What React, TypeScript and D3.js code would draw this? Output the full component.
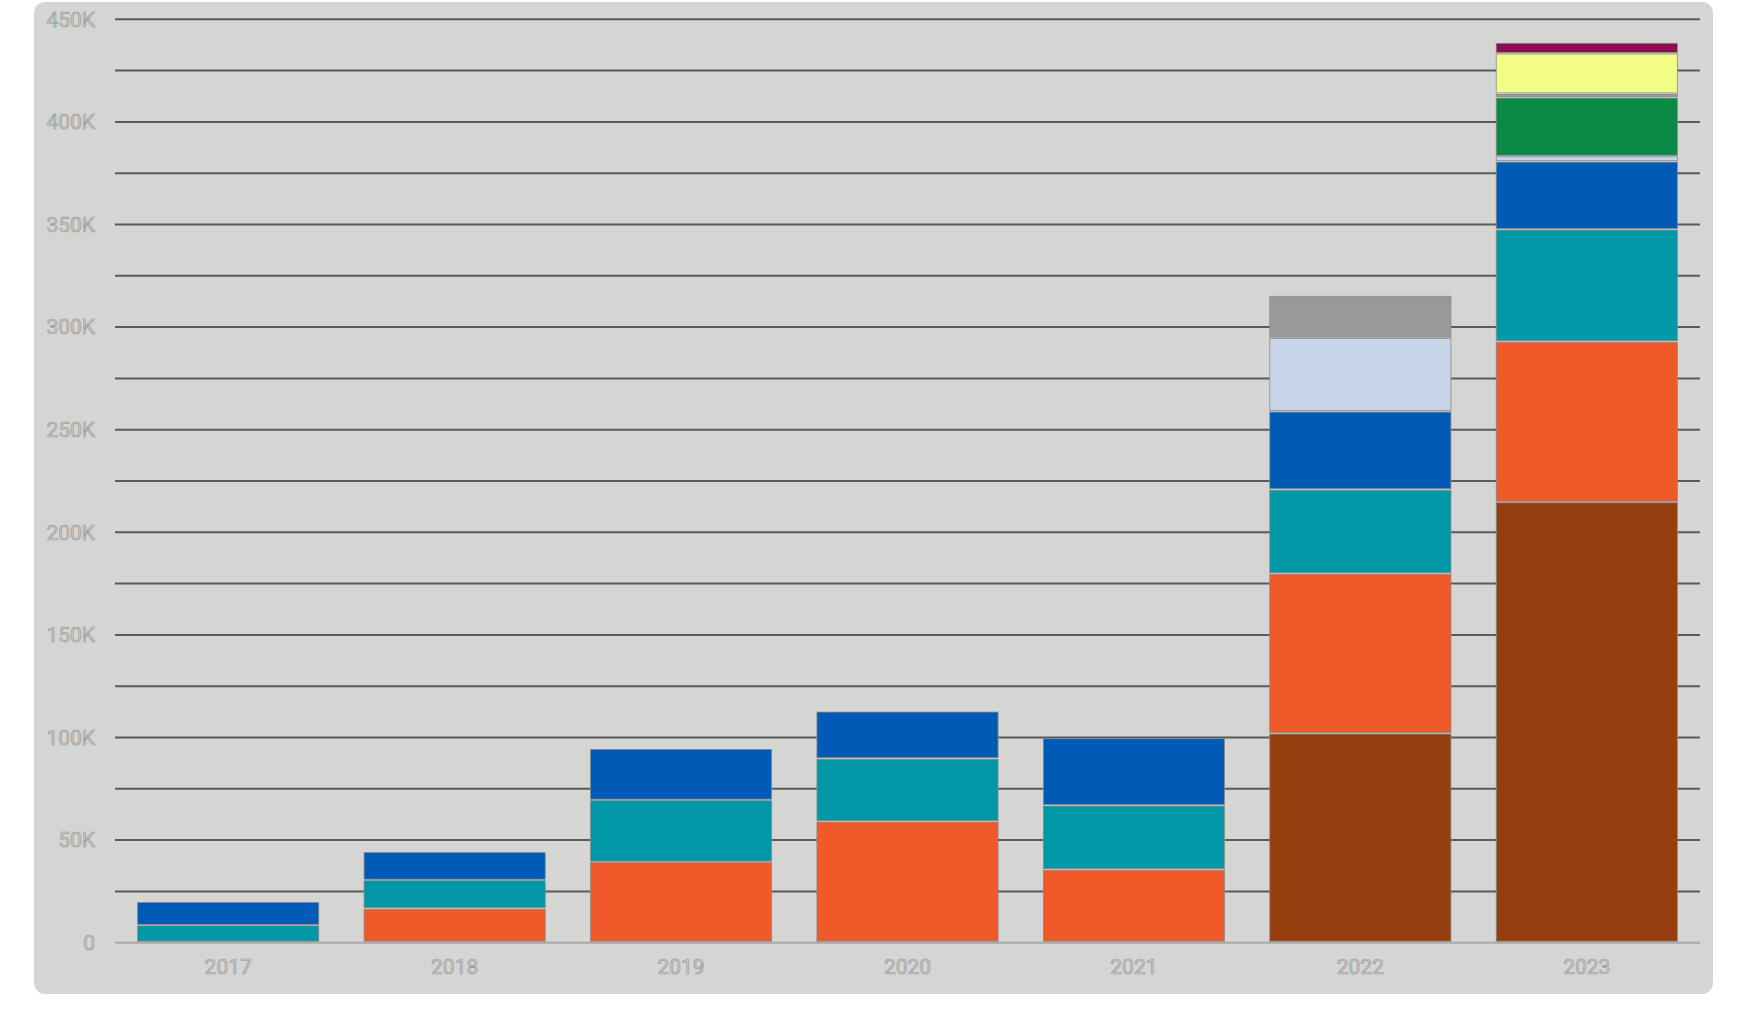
import React from 'react';
import * as d3 from 'd3';

const years = ['2017', '2018', '2019', '2020', '2021', '2022', '2023'];
const seriesNames = ['brown', 'orange', 'teal', 'blue', 'lightblue', 'green', 'gray', 'yellow', 'maroon'];
const seriesColors = ['#953f10', '#f05a29', '#0098a6', '#005bb6', '#c8d5e8', '#0a8a45', '#999999', '#f2fd86', '#8b0e50'];
const brown = [0, 0, 0, 0, 0, 101700, 214400];
const orange = [0, 16300, 39000, 58800, 35300, 77800, 78200];
const teal = [8200, 13900, 30200, 30600, 31300, 41000, 54700];
const blue = [11400, 13700, 25000, 23000, 32800, 38100, 33100];
const lightblue = [0, 0, 0, 0, 0, 35800, 2600];
const green = [0, 0, 0, 0, 0, 0, 28600];
const gray = [0, 0, 0, 0, 0, 20600, 1800];
const yellow = [0, 0, 0, 0, 0, 0, 19700];
const maroon = [0, 0, 0, 0, 0, 0, 5200];
const gridTicks = d3.range(0, 450001, 25000);
const labelTicks = d3.range(0, 450001, 50000);

const W = 1749, H = 1036;

export default function App() {
  const seriesVals = [brown, orange, teal, blue, lightblue, green, gray, yellow, maroon];
  const table = years.map((y, i) => {
    const row: any = { year: y };
    seriesNames.forEach((s, k) => (row[s] = seriesVals[k][i]));
    return row;
  });
  const stacked = d3.stack<any>().keys(seriesNames)(table);
  const x = d3.scaleBand().domain(years).range([115, 1700]).paddingInner(0.2).paddingOuter(0.1);
  const y = d3.scaleLinear().domain([0, 450000]).range([942.7, 19.3]);
  const fmt = (v: number) => (v === 0 ? '0' : `${v / 1000}K`);
  const textStyle = { fontFamily: 'Roboto, sans-serif', fontSize: 21 };

  return (
    <svg width={W} height={H} style={{ position: 'absolute', left: 0, top: 0 }}>
      <rect x={0} y={0} width={W} height={H} fill="#ffffff" />
      <rect x={34} y={2} width={1679} height={992} rx={11} fill="#d5d5d3" />
      {gridTicks.map((t) => (
        <line key={t} x1={115} x2={1700} y1={y(t)} y2={y(t)}
          stroke={t === 0 ? '#a9a9a9' : '#5a5a5a'} strokeWidth={2} />
      ))}
      {labelTicks.map((t) => (
        <text key={t} x={95} y={y(t)} dy="0.35em" textAnchor="end" {...textStyle}
          fill="#cacaca" stroke="#9c9c9c" strokeWidth={0.7}>{fmt(t)}</text>
      ))}
      {stacked.map((layer, k) => (
        <g key={seriesNames[k]}>
          {layer.map((d, i) => {
            const h = y(d[0]) - y(d[1]);
            if (h <= 0) return null;
            return (
              <rect key={i} x={x(years[i])} y={y(d[1])} width={x.bandwidth()} height={Math.max(h - 1.5, 0.5)}
                fill={seriesColors[k]} stroke="#8a8a8a" strokeWidth={0.8} />
            );
          })}
        </g>
      ))}
      {years.map((yr) => (
        <text key={yr} x={(x(yr) as number) + x.bandwidth() / 2} y={967} dy="0.35em" textAnchor="middle"
          {...textStyle} fill="#cacaca" stroke="#9c9c9c" strokeWidth={0.7}>{yr}</text>
      ))}
    </svg>
  );
}
